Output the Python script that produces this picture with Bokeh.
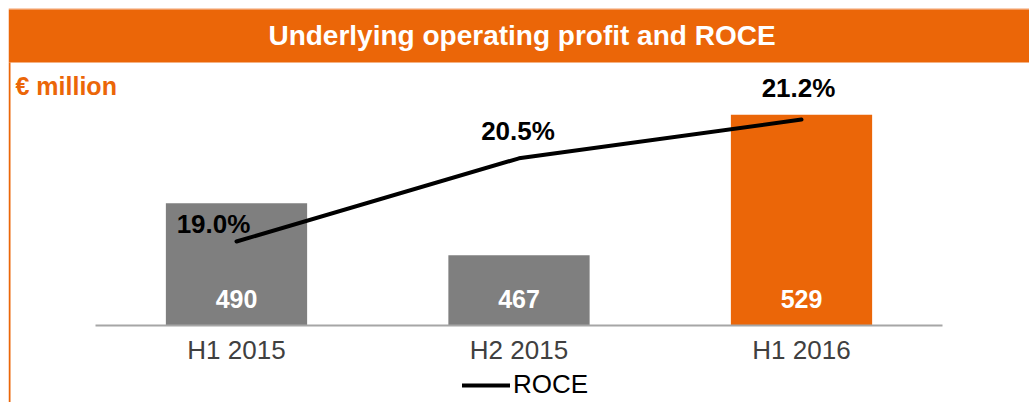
from bokeh.plotting import figure
from bokeh.models import (FactorRange, Range1d, CategoricalAxis, BoxAnnotation, Label,
                          Legend, LegendItem, ColumnDataSource)
from bokeh.core.properties import value
from bokeh.embed import file_html
from bokeh.resources import INLINE

# ---------------- data ----------------
categories = ["H1 2015", "H2 2015", "H1 2016"]
operating_profit = [490, 467, 529]
profit_labels = ["490", "467", "529"]
roce = [19.0, 20.5, 21.2]
roce_labels = ["19.0%", "20.5%", "21.2%"]
profit_axis_min = 436
profit_axis_max = 579.5
roce_axis_min = 16.096
roce_axis_max = 23.346
title_text = "Underlying operating profit and ROCE"
unit_text = "€ million"
series_name = "ROCE"

# ---------------- styles ----------------
ORANGE = "#EB6608"
GREY = "#7F7F7F"
FONT = "Liberation Sans"
bar_colors = [GREY, GREY, ORANGE]
roce_dx = [-23, -1, -3]
roce_dy = [-17, -27.5, -31.5]

W, H = 1029, 402
LEFT = 8


def canvas_box(left, right, top, bottom, color):
    return BoxAnnotation(left=left, right=right, top=top, bottom=bottom,
                         left_units="canvas", right_units="canvas",
                         top_units="canvas", bottom_units="canvas",
                         fill_color=color, fill_alpha=1, line_color=None, level="underlay")


src = ColumnDataSource(dict(cat=categories, profit=operating_profit, plabel=profit_labels,
                            roce=roce, rlabel=roce_labels, color=bar_colors,
                            dx=roce_dx, dy=roce_dy))

p = figure(width=W, height=H, output_backend="svg", toolbar_location=None,
           x_range=FactorRange(*categories, range_padding=0.2047),
           y_range=Range1d(402.0, profit_axis_max),
           x_axis_location=None, y_axis_location=None,
           min_border=0, min_border_left=LEFT,
           background_fill_color="white", border_fill_color="white")
p.extra_y_ranges = {"roce": Range1d(roce_axis_min, roce_axis_max)}
p.grid.visible = False
p.outline_line_color = None

# decorations: title bar, border
p.add_layout(canvas_box(8, W, 8, 9, "#F4A06A"))
p.add_layout(canvas_box(8, W, 9, 62, ORANGE))
p.add_layout(canvas_box(8, 10, 62, H, ORANGE))

p.add_layout(Label(x=521.5, y=35, x_units="canvas", y_units="canvas", text=title_text,
                   text_align="center", text_baseline="middle", text_font=FONT,
                   text_font_style="bold", text_font_size="28px", text_color="white"))
p.add_layout(Label(x=15, y=85, x_units="canvas", y_units="canvas", text=unit_text,
                   text_align="left", text_baseline="middle", text_font=FONT,
                   text_font_style="bold", text_font_size="25px", text_color=ORANGE))

# bars
p.vbar(x="cat", top="profit", bottom=profit_axis_min, width=0.5, fill_color="color",
       line_color=None, source=src)
p.text(x="cat", y=profit_axis_min, text="plabel", source=src, text_font=value(FONT),
       text_font_style="bold", text_font_size="25px", text_color="white",
       text_align="center", text_baseline="middle", y_offset=-26.5)

# category axis on the baseline
xax = CategoricalAxis(fixed_location=profit_axis_min, bounds=(0, 3),
                      axis_line_color="#A6A6A6", axis_line_width=2,
                      major_tick_line_color=None, minor_tick_line_color=None,
                      major_tick_in=0, major_tick_out=0,
                      major_label_text_font=FONT, major_label_text_font_size="26px",
                      major_label_text_color="#404040", major_label_standoff=10)
p.add_layout(xax, "below")

# ROCE line
line = p.line(x="cat", y="roce", y_range_name="roce", source=src, line_color="black",
              line_width=4, line_cap="round", line_join="round")
p.text(x="cat", y="roce", y_range_name="roce", text="rlabel", source=src,
       x_offset="dx", y_offset="dy", text_font=value(FONT), text_font_style="bold",
       text_font_size="26px", text_color="black", text_align="center",
       text_baseline="middle")

legend = Legend(items=[LegendItem(label=series_name, renderers=[line])],
                location=(462 - LEFT, 2),
                orientation="horizontal", glyph_width=48, glyph_height=26, label_standoff=3,
                padding=0, margin=0, border_line_color=None, background_fill_alpha=0,
                label_text_font=FONT, label_text_font_size="26px", label_text_color="black",
                label_height=26)
p.add_layout(legend)

open("out.html", "w").write(file_html(p, INLINE))
